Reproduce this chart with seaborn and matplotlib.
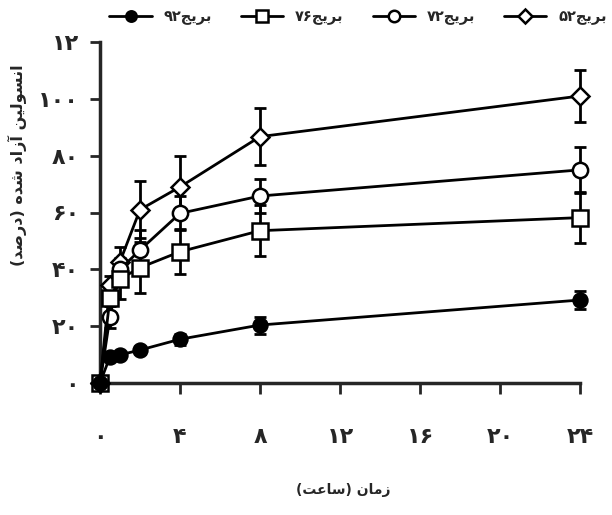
import matplotlib
matplotlib.use("Agg")
import matplotlib.pyplot as plt
import seaborn as sns
import pandas as pd

# ---------------- data ----------------
times = [0, 0.5, 1, 2, 4, 8, 24]
brij92 = [0, 9.3, 9.9, 11.6, 15.4, 20.4, 29.2]
err92 = [0, 1.0, 1.0, 1.5, 2.0, 3.0, 3.0]
brij76 = [0, 30.0, 36.6, 40.6, 46.2, 53.6, 58.2]
err76 = [0, 3.0, 7.0, 9.0, 8.0, 9.0, 9.0]
brij72 = [0, 23.3, 40.0, 46.8, 59.7, 65.8, 75.0]
err72 = [0, 4.0, 4.0, 7.0, 6.0, 6.0, 8.0]
brij52 = [0, 34.5, 42.7, 61.0, 69.0, 86.7, 101.0]
err52 = [0, 3.0, 5.0, 10.0, 11.0, 10.0, 9.0]

series_names = ["بریج۹۲", "بریج۷۶", "بریج۷۲", "بریج۵۲"]
xtick_vals = [0, 4, 8, 12, 16, 20, 24]
xtick_labels = ["۰", "۴", "۸", "۱۲", "۱۶", "۲۰", "۲۴"]
ytick_vals = [0, 20, 40, 60, 80, 100, 120]
ytick_labels = ["۰", "۲۰", "۴۰", "۶۰", "۸۰", "۱۰۰", "۱۲"]
xlabel_text = "زمان (ساعت)"
ylabel_text = "انسولین آزاد شده (درصد)"

# ------------- minimal Arabic shaping -------------
FORMS = {
    'ا': ('\uFE8D', '\uFE8E', None, None),
    'آ': ('\uFE81', '\uFE82', None, None),
    'ب': ('\uFE8F', '\uFE90', '\uFE91', '\uFE92'),
    'ت': ('\uFE95', '\uFE96', '\uFE97', '\uFE98'),
    'ج': ('\uFE9D', '\uFE9E', '\uFE9F', '\uFEA0'),
    'د': ('\uFEA9', '\uFEAA', None, None),
    'ر': ('\uFEAD', '\uFEAE', None, None),
    'ز': ('\uFEAF', '\uFEB0', None, None),
    'س': ('\uFEB1', '\uFEB2', '\uFEB3', '\uFEB4'),
    'ش': ('\uFEB5', '\uFEB6', '\uFEB7', '\uFEB8'),
    'ص': ('\uFEB9', '\uFEBA', '\uFEBB', '\uFEBC'),
    'ع': ('\uFEC9', '\uFECA', '\uFECB', '\uFECC'),
    'ل': ('\uFEDD', '\uFEDE', '\uFEDF', '\uFEE0'),
    'م': ('\uFEE1', '\uFEE2', '\uFEE3', '\uFEE4'),
    'ن': ('\uFEE5', '\uFEE6', '\uFEE7', '\uFEE8'),
    'ه': ('\uFEE9', '\uFEEA', '\uFEEB', '\uFEEC'),
    'و': ('\uFEED', '\uFEEE', None, None),
    'ی': ('\uFBFC', '\uFBFD', '\uFBFE', '\uFBFF'),
}
MIRROR = {'(': ')', ')': '('}


def is_digit(c):
    return '\u06F0' <= c <= '\u06F9' or c.isdigit()


def shape(s):
    chars = list(s)
    out = []
    for i, c in enumerate(chars):
        if c not in FORMS:
            out.append(c)
            continue
        prev = chars[i - 1] if i > 0 else None
        nxt = chars[i + 1] if i + 1 < len(chars) else None
        jp = prev in FORMS and FORMS[prev][2] is not None
        jn = nxt in FORMS and FORMS[c][2] is not None
        iso, fin, ini, med = FORMS[c]
        if jp and jn:
            g = med
        elif jp:
            g = fin
        elif jn:
            g = ini
        else:
            g = iso
        out.append(g)
    tokens = []
    i = 0
    while i < len(out):
        if is_digit(out[i]):
            j = i
            while j < len(out) and is_digit(out[j]):
                j += 1
            tokens.append(''.join(out[i:j]))
            i = j
        else:
            tokens.append(MIRROR.get(out[i], out[i]))
            i += 1
    return ''.join(reversed(tokens))


# ---------------- plot ----------------
sns.set_style("ticks")
plt.rcParams['font.family'] = ['DejaVu Sans']
plt.rcParams['font.weight'] = 'bold'

fig = plt.figure(figsize=(6.12, 5.15), dpi=100)
ax = fig.add_axes([100 / 612, 1 - 383 / 515, 480 / 612, 341 / 515])

vals = [brij92, brij76, brij72, brij52]
errs = [err92, err76, err72, err52]
markers = ['o', 's', 'o', 'D']
faces = ['black', 'white', 'white', 'white']
msizes = [10, 11, 11, 9]
zorders = [6, 5, 4, 3]

for name, v, e, m, fc, ms, zo in zip(series_names, vals, errs, markers, faces, msizes, zorders):
    df = pd.DataFrame({"t": times, "v": v})
    ax.errorbar(times, v, yerr=e, fmt='none', ecolor='black', elinewidth=2,
                capsize=4, capthick=2, zorder=2, clip_on=False)
    sns.lineplot(data=df, x="t", y="v", ax=ax, color='black', linewidth=2,
                 marker=m, markersize=ms, markerfacecolor=fc,
                 markeredgecolor='black', markeredgewidth=1.8,
                 label=shape(name), zorder=zo, clip_on=False, legend=False)

ax.set_xlim(0, 24)
ax.set_ylim(0, 120)
ax.set_xticks(xtick_vals)
ax.set_xticklabels(xtick_labels, fontsize=16, fontweight='bold')
ax.set_yticks(ytick_vals)
ax.set_yticklabels(ytick_labels, fontsize=16, fontweight='bold')
ax.tick_params(axis='x', direction='out', length=8, width=2, pad=24)
ax.tick_params(axis='y', direction='out', length=7, width=2, pad=8)
sns.despine(ax=ax)
for sp in ['left', 'bottom']:
    ax.spines[sp].set_linewidth(2.5)
ax.set_xlabel("")
ax.set_ylabel("")

fig.text(343 / 612, 1 - 490 / 515, shape(xlabel_text), ha='center', va='center',
         fontsize=10, fontweight='bold')
fig.text(17 / 612, 1 - 165 / 515, shape(ylabel_text), ha='center', va='center',
         rotation=90, fontsize=11.5, fontweight='bold')

handles, labels = ax.get_legend_handles_labels()
fig.legend(handles, labels, loc='center', bbox_to_anchor=(358 / 612, 1 - 17 / 515),
           ncol=4, frameon=False, fontsize=10.5, handlelength=2.9, columnspacing=2.0,
           handletextpad=0.8, markerscale=0.75, borderaxespad=0, borderpad=0.2)

fig.savefig("out.png", dpi=100)
